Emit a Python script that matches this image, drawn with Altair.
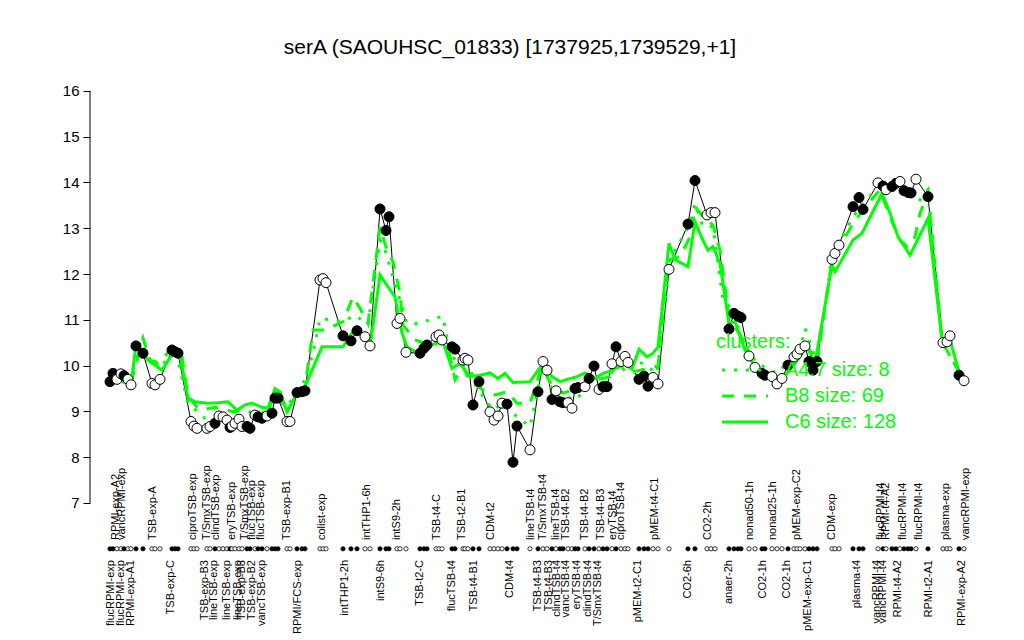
import altair as alt
import pandas as pd

# ---------------- data ----------------
sample_pos = [110,113,117,121,124,128,131,136,143,152,155,160,172,175,178,191,194,197,207,210,
              215,219,223,227,230,232,235,239,242,247,250,255,258,262,267,272,275,278,287,290,
              297,302,305,320,323,326,343,351,357,365,370,380,386,389,397,400,406,420,424,427,
              436,439,442,452,455,463,465,468,473,479,490,494,498,502,507,513,517,530,538,543,
              547,552,556,560,563,568,572,575,578,585,589,594,599,603,607,612,616,621,625,628,
              639,644,648,653,658,669,688,695,707,711,715,729,734,738,741,749,755,762,765,772,
              777,782,788,794,797,800,805,809,813,817,832,835,839,853,859,863,878,883,886,892,
              896,900,904,908,911,916,928,943,947,950,959,964]
sample_val = [9.65,9.83,9.70,9.82,9.78,9.70,9.58,10.43,10.27,9.61,9.58,9.70,10.34,10.30,10.27,8.78,8.68,8.63,8.63,8.67,
              8.74,8.90,8.88,8.81,8.65,8.68,8.74,8.83,8.67,8.67,8.63,8.92,8.88,8.85,8.90,8.96,9.29,9.29,8.78,8.78,
              9.41,9.43,9.45,11.87,11.90,11.81,10.65,10.54,10.76,10.63,10.43,13.42,12.95,13.25,10.92,11.03,10.29,10.27,10.38,10.45,
              10.63,10.67,10.56,10.41,10.36,10.12,10.16,10.12,9.14,9.65,8.99,8.81,8.90,9.18,9.16,7.89,8.68,8.16,9.43,10.09,
              9.90,9.26,9.45,9.21,9.19,9.19,9.07,9.50,9.52,9.54,9.72,9.99,9.48,9.54,9.54,10.04,10.41,10.09,10.20,10.07,
              9.70,9.77,9.55,9.74,9.60,12.10,13.09,14.04,13.29,13.34,13.34,10.80,11.14,11.08,11.05,10.21,9.96,9.83,9.79,9.76,
              9.60,9.72,10.01,10.19,10.25,10.36,10.43,10.09,9.90,10.09,12.32,12.45,12.63,13.47,13.67,13.41,13.99,13.92,13.84,13.91,
              13.98,14.02,13.82,13.78,13.77,14.07,13.69,10.50,10.52,10.65,9.79,9.67]
sample_filled = [1,1,0,0,1,0,0,1,1,0,0,0,1,1,1,0,0,0,0,0,
                 1,0,0,0,1,0,0,0,0,1,1,0,1,1,0,1,1,1,0,0,
                 1,1,1,0,0,0,1,1,1,0,0,1,1,1,0,0,0,1,1,1,
                 0,0,0,1,1,0,0,0,1,1,0,0,0,0,1,1,1,0,1,0,
                 0,1,0,1,1,0,0,1,1,0,1,1,0,1,1,0,1,0,0,0,
                 1,1,1,0,0,0,1,1,0,0,0,1,1,1,1,0,0,1,1,0,
                 0,0,1,0,0,0,0,1,1,1,0,0,0,1,1,1,0,1,0,1,
                 1,0,1,1,1,0,1,0,0,0,1,0]

c6_pos = [110,120,131,136,148,157,162,173,180,188,195,208,218,228,237,245,252,262,268,275,280,287,292,297,
          305,322,343,355,363,371,380,388,395,402,407,418,430,443,452,460,470,480,490,498,505,513,530,543,
          552,560,567,577,585,595,603,613,623,632,639,647,653,658,669,675,688,695,702,708,713,720,729,735,
          745,753,763,777,787,797,807,815,832,835,853,862,882,890,898,907,910,928,942,950,960,965]
c6_val = [9.70,9.72,9.60,10.45,10.12,9.98,9.90,10.27,10.23,9.29,9.21,9.18,9.19,9.21,9.03,9.14,9.18,9.09,9.07,9.50,9.43,8.99,9.18,9.43,
          9.54,10.41,10.41,10.81,10.63,10.56,11.98,11.72,11.50,10.71,10.41,10.27,10.45,10.52,9.94,10.05,9.76,9.79,9.84,9.72,9.83,9.63,9.65,10.05,
          9.76,9.65,9.70,9.76,9.84,9.72,9.83,9.90,10.05,9.92,10.36,10.19,10.27,10.41,12.67,12.31,12.16,13.14,12.78,12.52,12.60,12.23,10.92,10.96,
          10.34,10.05,9.83,9.69,9.83,10.12,10.41,10.05,12.20,12.05,12.74,12.89,13.76,13.33,12.81,12.52,12.41,13.21,10.56,10.56,9.79,9.69]

b8_pos = [110,131,143,150,158,172,182,188,197,202,215,225,235,245,252,262,268,275,282,288,295,305,313,325,
          332,343,353,360,368,380,387,393,400,403,415,425,438,448,455,463,470,483,495,507,517,530,542,552,
          563,573,585,597,610,620,627,640,653,658,668,680,690,695,703,713,720,729,743,753,765,777,787,800,
          808,817,832,853,863,880,890,900,907,915,920,928,942,960,965]
b8_val = [9.72,9.62,10.60,10.12,10.05,10.38,10.20,9.32,9.10,9.03,9.09,9.03,8.99,9.05,8.96,8.99,8.96,9.47,9.25,9.03,9.32,9.54,10.78,10.78,
          10.85,10.96,11.50,11.25,10.92,13.03,12.52,12.27,11.58,10.89,10.56,10.49,10.63,10.41,9.69,9.98,9.65,9.47,9.36,9.43,9.18,9.18,9.98,9.55,
          9.40,9.47,9.58,9.69,9.76,10.01,9.83,9.90,9.98,9.98,12.31,12.38,12.81,13.47,13.25,13.07,12.52,11.07,10.56,10.05,9.83,9.72,9.83,10.19,
          10.41,10.05,12.31,13.10,13.40,13.84,13.25,12.74,12.60,12.81,13.33,13.76,10.52,9.83,9.69]

a47_pos = [110,131,137,153,162,175,188,205,222,235,248,265,275,285,295,305,313,320,330,343,355,368,380,385,
           397,407,420,433,443,450,458,470,483,493,503,517,530,538,543,553,577,590,600,620,643,657,670,690,
           695,703,713,723,733,743,757,777,800,805,817,832,853,863,880,893,907,920,928,942,963]
a47_val = [9.70,9.60,10.45,10.12,10.00,10.38,9.18,8.85,8.81,8.81,8.88,8.99,9.40,9.10,9.32,9.69,10.27,11.03,11.00,10.96,11.10,10.90,12.74,12.52,
           11.65,10.92,10.92,11.03,11.07,10.27,10.05,9.90,9.32,9.03,9.18,8.88,8.67,9.47,10.05,9.40,9.25,9.76,9.47,10.12,10.05,9.83,12.31,13.10,
           13.54,13.03,13.03,11.43,11.21,10.49,10.05,9.83,10.34,10.81,10.05,12.38,13.25,13.54,13.94,13.80,13.87,13.62,13.84,10.52,9.72]

top_label_pos = [116,122,153,193,207,216,232,245,252,261,287,322,367,397,437,462,491,531,543,556,566,585,601,
                 613,621,655,708,750,773,797,832,881,886,903,919,946,966]
top_label_text = ["RPMI-exp-A2","vancRPMI-exp","TSB-exp-A","ciproTSB-exp","T/SmxTSB-exp","clindTSB-exp",
                  "eryTSB-exp","T/SmxTSB-exp","flucTSB-exp","flucTSB-exp","TSB-exp-B1","colist-exp",
                  "intTHP1-6h","intS9-2h","TSB-t4-C","TSB-t2-B1","CDM-t2","lineTSB-t4","T/SmxTSB-t4",
                  "lineTSB-t4","TSB-t4-B2","TSB-t4-B2","TSB-t4-B3","eryTSB-t4","ciproTSB-t4","pMEM-t4-C1",
                  "CO2-2h","nonad50-1h","nonad25-1h","pMEM-exp-C2","CDM-exp","flucRPMI-t4","RPMI-t4-A2",
                  "flucRPMI-t4","flucRPMI-t4","plasma-exp","vancRPMI-exp"]
bottom_label_pos = [111,121,131,171,205,214,227,238,242,252,262,298,345,381,420,452,474,510,538,549,557,566,
                    577,588,598,638,688,729,763,787,808,857,877,883,898,929,962]
bottom_label_text = ["flucRPMI-exp","flucRPMI-exp","RPMI-exp-A1","TSB-exp-C","TSB-exp-B3","lineTSB-exp",
                     "lineTSB-exp","lineTSB-exp","TSB-exp-B3","TSB-exp-B2","vancTSB-exp","RPMI/FCS-exp",
                     "intTHP1-2h","intS9-6h","TSB-t2-C","flucTSB-t4","TSB-t4-B1","CDM-t4","TSB-t4-B3",
                     "TSB-t4-B3","clindTSB-t4","vancTSB-t4","eryTSB-t4","clindTSB-t4","T/SmxTSB-t4",
                     "pMEM-t2-C1","CO2-6h","anaer-2h","CO2-1h","CO2-1h","pMEM-exp-C1","plasma-t4",
                     "vancRPMI-t4","vancRPMI-t4","RPMI-t4-A2","RPMI-t2-A1","RPMI-exp-A2"]

y_ticks = [7, 8, 9, 10, 11, 12, 13, 14, 15, 16]
title_text = "serA (SAOUHSC_01833) [1737925,1739529,+1]"
legend_title = "clusters:"
legend_labels = ["A4.7 size: 8", "B8 size: 69", "C6 size: 128"]

# ---------------- chart ----------------
FONT = "Liberation Sans"
GREEN = "#00ff00"
W, H = 895, 550
xs = alt.Scale(domain=[90, 985], nice=False, zero=False)
ys = alt.Scale(domain=[4.227, 16.236], nice=False, zero=False)

samples = pd.DataFrame({"pos": sample_pos, "val": sample_val, "filled": sample_filled,
                        "order": list(range(len(sample_pos)))})
fill_cond = alt.condition(alt.datum.filled == 1, alt.value("black"), alt.value("white"))

x_enc = alt.X("pos:Q", scale=xs, axis=None)
y_axis = alt.Axis(values=y_ticks, domain=False, grid=False, title=None,
                  tickSize=7, tickColor="black", tickWidth=1,
                  labelFontSize=15, labelFont=FONT, labelColor="black",
                  labelPadding=4, labelAngle=0)

# y axis ticks/labels plus the axis line that spans only 7..16
axis_df = pd.DataFrame({"lo": [y_ticks[0]], "hi": [y_ticks[-1]]})
axis_line = alt.Chart(axis_df).mark_rule(color="black", strokeWidth=1).encode(
    x=alt.value(0), y=alt.Y("lo:Q", scale=ys, axis=y_axis), y2="hi:Q")

black_line = alt.Chart(samples).mark_line(color="black", strokeWidth=1).encode(
    x=x_enc, y=alt.Y("val:Q", scale=ys, axis=y_axis), order="order:Q")

def green(pos, val, dash):
    df = pd.DataFrame({"pos": pos, "val": val, "order": list(range(len(pos)))})
    kw = dict(color=GREEN, strokeWidth=3)
    if dash:
        kw["strokeDash"] = dash
    return alt.Chart(df).mark_line(**kw).encode(
        x=x_enc, y=alt.Y("val:Q", scale=ys, axis=y_axis), order="order:Q")

line_c6 = green(c6_pos, c6_val, None)
line_b8 = green(b8_pos, b8_val, [12, 10])
line_a47 = green(a47_pos, a47_val, [3, 9])

points = alt.Chart(samples).mark_circle(size=100, stroke="black", strokeWidth=1, opacity=1).encode(
    x=x_enc, y=alt.Y("val:Q", scale=ys, axis=y_axis), fill=fill_cond)

dot_row = alt.Chart(samples).mark_circle(size=18, stroke="black", strokeWidth=0.8, opacity=1).encode(
    x=x_enc, y=alt.datum(6.0, scale=ys), fill=fill_cond)

top_labels = alt.Chart(pd.DataFrame({"pos": top_label_pos, "t": top_label_text})).mark_text(
    angle=270, align="left", baseline="middle", fontSize=11, font=FONT, color="black").encode(
    x=x_enc, y=alt.value(460), text="t:N")

bottom_labels = alt.Chart(pd.DataFrame({"pos": bottom_label_pos, "t": bottom_label_text})).mark_text(
    angle=270, align="right", baseline="middle", fontSize=11, font=FONT, color="black").encode(
    x=x_enc, y=alt.value(480), text="t:N")

one = pd.DataFrame({"a": [0]})
title = alt.Chart(one).mark_text(text=title_text, fontSize=21, font=FONT, color="black",
                                 align="center", baseline="middle").encode(
    x=alt.value(420), y=alt.value(-32))

leg_title = alt.Chart(one).mark_text(text=legend_title, fontSize=20, font=FONT, color=GREEN,
                                     align="left", baseline="middle").encode(
    x=alt.value(626), y=alt.value(262))

leg_layers = []
dashes = [[3, 9], [12, 10], None]
for i, (lab, d) in enumerate(zip(legend_labels, dashes)):
    yy = 290 + i * 26
    kw = dict(color=GREEN, strokeWidth=3)
    if d:
        kw["strokeDash"] = d
    leg_layers.append(alt.Chart(one).mark_rule(**kw).encode(
        x=alt.value(632), x2=alt.value(678), y=alt.value(yy)))
    leg_layers.append(alt.Chart(one).mark_text(text=lab, fontSize=20, font=FONT, color=GREEN,
                                               align="left", baseline="middle").encode(
        x=alt.value(695), y=alt.value(yy)))

chart = alt.layer(
    axis_line, black_line, line_a47, line_b8, line_c6, points, dot_row,
    top_labels, bottom_labels, title, leg_title, *leg_layers
).properties(
    width=W, height=H, autosize="none",
    padding={"left": 82, "top": 72, "right": 20, "bottom": 10}
).configure(background="white", view=alt.ViewConfig(stroke=None))

chart.save("out.html", embed_options={"renderer": "svg", "actions": False})
